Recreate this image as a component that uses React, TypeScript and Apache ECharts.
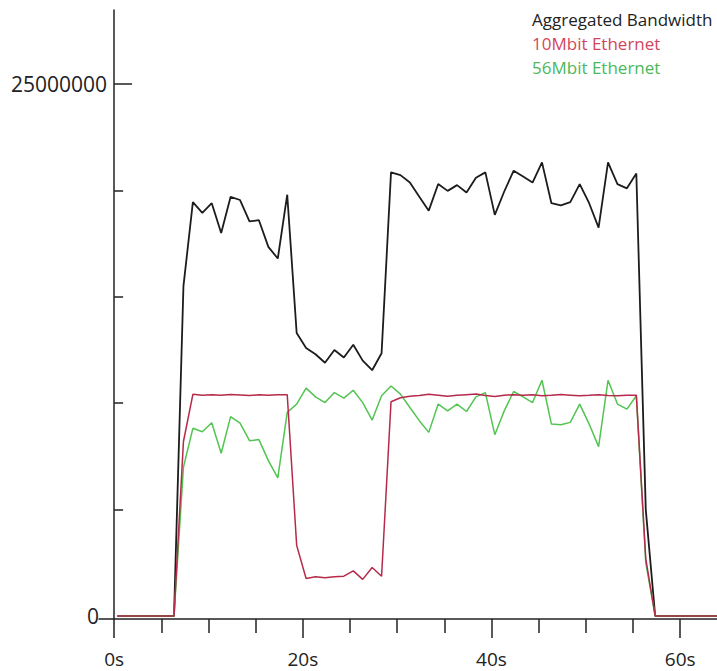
import React, { useEffect, useRef } from "react";
import * as echarts from "echarts";

// sample times (s)
const seconds = [
  0.35, 1.35, 2.35, 3.35, 4.35, 5.35, 6.35, 7.35, 8.35, 9.35,
  10.35, 11.35, 12.35, 13.35, 14.35, 15.35, 16.35, 17.35, 18.35, 19.35,
  20.35, 21.35, 22.35, 23.35, 24.35, 25.35, 26.35, 27.35, 28.35, 29.35,
  30.35, 31.35, 32.35, 33.35, 34.35, 35.35, 36.35, 37.35, 38.35, 39.35,
  40.35, 41.35, 42.35, 43.35, 44.35, 45.35, 46.35, 47.35, 48.35, 49.35,
  50.35, 51.35, 52.35, 53.35, 54.35, 55.35, 56.35, 57.35, 58.35, 59.35,
  60.35, 61.35, 62.35, 63.35, 64.35,
];

// values in millions
const aggregated = [
  0, 0, 0, 0, 0, 0, 0, 15.5, 19.45, 18.95,
  19.4, 18.0, 19.7, 19.55, 18.55, 18.6, 17.35, 16.8, 19.8, 13.3,
  12.6, 12.3, 11.9, 12.5, 12.15, 12.75, 12.0, 11.55, 12.35, 20.85,
  20.72, 20.37, 19.7, 19.05, 20.3, 19.98, 20.25, 19.9, 20.6, 20.85,
  18.85, 19.95, 20.93, 20.65, 20.37, 21.32, 19.4, 19.3, 19.45, 20.3,
  19.4, 18.25, 21.32, 20.3, 20.1, 20.8, 5.0, 0, 0, 0,
  0, 0, 0, 0, 0,
];

const ethernet10 = [
  0, 0, 0, 0, 0, 0, 0, 8.2, 10.42, 10.38,
  10.4, 10.37, 10.41, 10.39, 10.36, 10.4, 10.38, 10.4, 10.4, 3.32,
  1.76, 1.84, 1.8, 1.84, 1.87, 2.12, 1.72, 2.28, 1.87, 10.07,
  10.26, 10.33, 10.36, 10.42, 10.38, 10.33, 10.37, 10.4, 10.43, 10.36,
  10.32, 10.38, 10.4, 10.37, 10.4, 10.35, 10.37, 10.41, 10.38, 10.35,
  10.37, 10.4, 10.36, 10.35, 10.37, 10.38, 2.7, 0, 0, 0,
  0, 0, 0, 0, 0,
];

const ethernet56 = [
  0, 0, 0, 0, 0, 0, 0, 7.0, 8.82, 8.66,
  9.08, 7.65, 9.37, 9.06, 8.24, 8.29, 7.3, 6.49, 9.57, 9.96,
  10.71, 10.3, 10.03, 10.5, 10.24, 10.61, 10.03, 9.21, 10.35, 10.81,
  10.43, 9.8, 9.18, 8.63, 9.96, 9.64, 9.96, 9.61, 10.3, 10.5,
  8.52, 9.64, 10.55, 10.3, 10.03, 11.08, 9.02, 8.99, 9.1, 9.96,
  9.02, 7.96, 11.08, 9.96, 9.72, 10.35, 2.5, 0, 0, 0,
  0, 0, 0, 0, 0,
];

const seriesNames = ["Aggregated Bandwidth", "10Mbit Ethernet", "56Mbit Ethernet"];
const xMajorTicks = [0, 20, 40, 60];
const xMinorTicks = [5, 10, 15, 25, 30, 35, 45, 50, 55];
const yMinorTicks = [5000000, 10000000, 15000000, 20000000];
const yMajorTicks = [25000000];
const yLabels = [0, 25000000];

const UNIT = 1000000;
const FONT = "Open Sans";
const AXIS_COLOR = "#222";

const toPairs = (vals: number[]) => vals.map((v, i) => [seconds[i], v * UNIT]);

export default function App() {
  const ref = useRef<HTMLDivElement>(null);

  useEffect(() => {
    if (!ref.current) return;
    const chart = echarts.init(ref.current, undefined, { renderer: "svg" });
    const xCommon = {
      type: "value" as const,
      min: -1.6,
      max: 63.9,
      position: "bottom" as const,
      splitLine: { show: false },
    };
    const yCommon = {
      type: "value" as const,
      min: -141000,
      max: 28480000,
      position: "left" as const,
      splitLine: { show: false },
    };
    chart.setOption({
      animation: false,
      backgroundColor: "#fff",
      grid: { left: 99, right: 0, top: 10, bottom: 52, containLabel: false },
      legend: {
        orient: "vertical",
        left: 522,
        top: 6,
        itemWidth: 0,
        itemHeight: 0,
        itemGap: 7,
        icon: "rect",
        selectedMode: false,
        textStyle: { fontFamily: FONT, fontSize: 17 },
        data: [
          { name: seriesNames[0], textStyle: { color: "#222" } },
          { name: seriesNames[1], textStyle: { color: "#d2465c" } },
          { name: seriesNames[2], textStyle: { color: "#4cb85a" } },
        ],
      },
      xAxis: [
        {
          ...xCommon,
          axisLine: { onZero: false, lineStyle: { color: AXIS_COLOR, width: 1.5 } },
          axisTick: {
            show: true,
            customValues: xMinorTicks,
            length: 14,
            lineStyle: { color: AXIS_COLOR, width: 1.5 },
          },
          axisLabel: { show: false },
        },
        {
          ...xCommon,
          axisLine: { onZero: false, lineStyle: { color: AXIS_COLOR, width: 1.5, opacity: 0 } },
          axisTick: {
            show: true,
            customValues: xMajorTicks,
            length: 19,
            lineStyle: { color: AXIS_COLOR, width: 1.5 },
          },
          axisLabel: {
            show: true,
            customValues: xMajorTicks,
            formatter: (v: number) => `${v}s`,
            margin: 30,
            fontFamily: FONT,
            fontSize: 19,
            color: AXIS_COLOR,
          },
        },
      ],
      yAxis: [
        {
          ...yCommon,
          axisLine: { show: true, onZero: true, lineStyle: { color: AXIS_COLOR, width: 1.5 } },
          axisTick: {
            show: true,
            inside: true,
            customValues: yMinorTicks,
            length: 9,
            lineStyle: { color: AXIS_COLOR, width: 1.5 },
          },
          axisLabel: {
            show: true,
            customValues: yLabels,
            margin: -8,
            fontFamily: FONT,
            fontSize: 21,
            color: AXIS_COLOR,
            formatter: (v: number) => (v === 0 ? "{z|0}" : String(v)),
            rich: {
              z: { fontFamily: FONT, fontSize: 21, color: AXIS_COLOR, padding: [0, 8, 0, 0] },
            },
          },
        },
        {
          ...yCommon,
          axisLine: { show: true, onZero: true, lineStyle: { color: AXIS_COLOR, width: 1.5, opacity: 0 } },
          axisTick: {
            show: true,
            inside: true,
            customValues: yMajorTicks,
            length: 18,
            lineStyle: { color: AXIS_COLOR, width: 1.5 },
          },
          axisLabel: { show: false },
        },
      ],
      series: [
        {
          name: seriesNames[0],
          type: "line",
          showSymbol: false,
          symbol: "none",
          data: toPairs(aggregated),
          color: "#1c1c1c",
          lineStyle: { color: "#1c1c1c", width: 1.8 },
          z: 3,
        },
        {
          name: seriesNames[2],
          type: "line",
          showSymbol: false,
          symbol: "none",
          data: toPairs(ethernet56),
          color: "#52c452",
          lineStyle: { color: "#52c452", width: 1.5 },
          z: 4,
        },
        {
          name: seriesNames[1],
          type: "line",
          showSymbol: false,
          symbol: "none",
          data: toPairs(ethernet10),
          color: "#b52a4a",
          lineStyle: { color: "#b52a4a", width: 1.5 },
          z: 5,
        },
      ],
    });
    return () => chart.dispose();
  }, []);

  return (
    <div
      ref={ref}
      style={{ position: "fixed", left: 0, top: 0, width: 717, height: 671, background: "#fff" }}
    />
  );
}
